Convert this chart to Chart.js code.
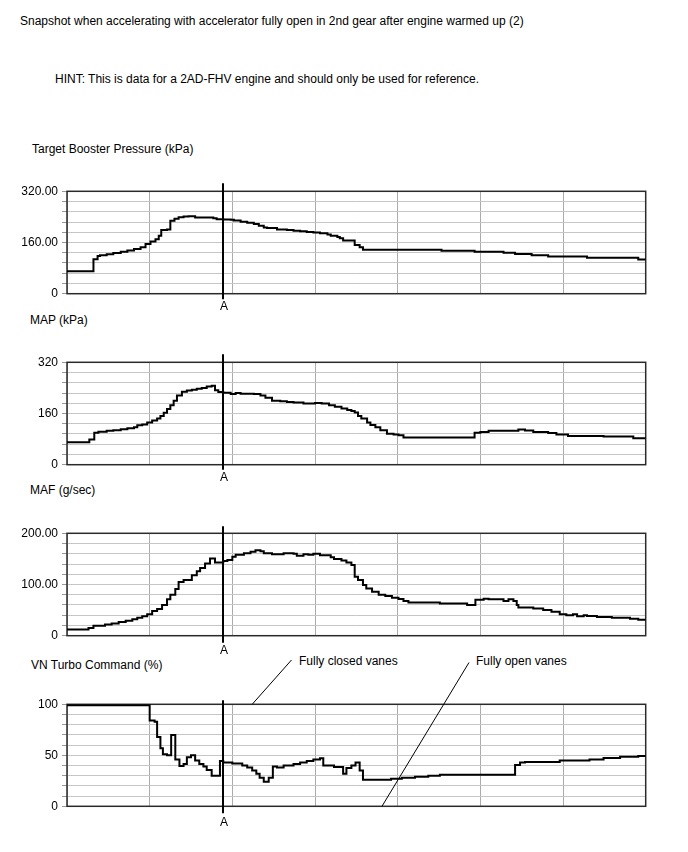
<!DOCTYPE html>
<html>
<head>
<meta charset="utf-8">
<script src="https://cdn.jsdelivr.net/npm/chart.js@4.4.1/dist/chart.umd.min.js"></script>
<style>
  body { margin: 0; background: #fff; width: 688px; height: 852px; position: relative; overflow: hidden;
         font-family: "Liberation Sans", Arial, sans-serif; }
  .txt { position: absolute; font-size: 12px; line-height: 14px; color: #000; white-space: nowrap; }
  canvas { position: absolute; left: 0; }
</style>
</head>
<body>
<div class="txt" style="left:20px;top:14px">Snapshot when accelerating with accelerator fully open in 2nd gear after engine warmed up (2)</div>
<div class="txt" style="left:55px;top:72px">HINT: This is data for a 2AD-FHV engine and should only be used for reference.</div>
<div class="txt" style="left:32px;top:142px">Target Booster Pressure (kPa)</div>
<div class="txt" style="left:30px;top:313px">MAP (kPa)</div>
<div class="txt" style="left:30px;top:483px">MAF (g/sec)</div>
<div class="txt" style="left:31px;top:658px">VN Turbo Command (%)</div>
<div class="txt" style="left:299px;top:654px">Fully closed vanes</div>
<div class="txt" style="left:476px;top:654px">Fully open vanes</div>

<canvas id="boost" style="top:175px" width="688" height="140"></canvas>
<canvas id="map" style="top:345px" width="688" height="140"></canvas>
<canvas id="maf" style="top:515px" width="688" height="140"></canvas>
<canvas id="vn" style="top:640px" width="688" height="200"></canvas>

<script>
// time axis: 7 divisions, no labels
const markerAt = 18.9;
const markerLabel = 'A';

// Target Booster Pressure (kPa) - each point is where a new level starts
const boostX = [0, 3.2, 3.7, 4.0, 4.8, 5.6, 6.5, 7.3, 8.1, 8.9, 9.5, 10.1, 10.7, 11.1, 11.4, 12.1, 12.5, 13.0, 13.5, 14.1,
  14.7, 15.5, 17.7, 18.1, 18.9, 19.8, 20.2, 21.0, 21.8, 22.6, 23.2, 23.8, 24.2, 25.4, 26.6, 27.4, 28.2, 29.0, 29.8, 30.6,
  31.5, 31.9, 32.7, 33.0, 33.4, 34.8, 35.4, 35.8, 45.3, 49.3, 52.8, 54.2, 56.2, 58.2, 62.9, 69.1, 70];
const boostY = [70, 108, 118, 120, 123, 127, 131, 135, 140, 145, 155, 163, 170, 181, 199, 201, 228, 234, 239, 241,
  242, 238, 236, 233, 232, 231, 229, 225, 222, 218, 212, 207, 205, 201, 199, 197, 195, 193, 191, 189,
  185, 181, 177, 173, 166, 152, 145, 137, 134, 131, 128, 124, 120, 116, 112, 107, 107];
const boostTickVals = [0, 160, 320];
const boostTickText = ['0', '160.00', '320.00'];

// MAP (kPa)
const mapX = [0, 2.7, 3.3, 3.8, 4.8, 5.6, 6.5, 7.3, 8.1, 8.5, 9.1, 9.7, 10.3, 10.9, 11.3, 11.7, 12.1, 12.5, 12.9, 13.3,
  13.9, 14.5, 15.1, 15.7, 16.3, 16.9, 17.5, 17.9, 18.3, 18.9, 19.8, 20.4, 21.0, 22.6, 23.4, 24.0, 24.8, 25.8, 26.6, 27.4,
  28.6, 30.0, 30.8, 31.7, 32.4, 33.2, 33.9, 34.4, 34.8, 35.2, 35.6, 36.3, 36.7, 37.3, 37.9, 38.7, 39.5, 40.1, 40.7, 49.3,
  50.0, 51.0, 54.6, 55.4, 56.4, 58.2, 59.2, 60.6, 64.9, 68.5, 70];
const mapY = [70, 79, 100, 103, 106, 108, 111, 114, 117, 123, 126, 132, 138, 144, 152, 162, 174, 186, 200, 216,
  228, 232, 234, 237, 240, 244, 247, 233, 227, 225, 221, 224, 222, 221, 216, 209, 200, 198, 196, 194,
  191, 193, 191, 186, 181, 176, 171, 168, 163, 152, 144, 132, 124, 117, 108, 97, 94, 92, 85, 100,
  102, 106, 110, 107, 102, 99, 94, 90, 88, 83, 83];
const mapTickVals = [0, 160, 320];
const mapTickText = ['0', '160', '320'];

// MAF (g/sec)
const mafX = [0, 2.6, 3.2, 4.6, 5.4, 6.25, 7.1, 7.9, 8.5, 9.1, 9.7, 10.3, 10.9, 11.5, 12.1, 12.5, 13.1, 13.5, 14.1, 15.1,
  15.7, 16.1, 16.7, 17.3, 17.9, 18.9, 19.4, 20.0, 20.4, 21.4, 22.2, 22.8, 23.4, 23.8, 24.8, 26.2, 27.4, 27.8, 28.6, 29.2,
  29.8, 30.6, 31.9, 32.3, 33.2, 33.8, 34.4, 34.8, 35.2, 35.8, 36.2, 36.9, 37.7, 38.5, 39.3, 40.1, 40.7, 41.3, 45.1, 48.4,
  49.4, 50.4, 51.0, 52.8, 53.4, 54.0, 54.4, 54.6, 56.4, 57.6, 58.6, 59.6, 60.4, 61.2, 61.7, 62.5, 62.9, 64.1, 65.9, 68.1,
  69.1, 70];
const mafY = [12, 15, 19.5, 22, 24, 27, 29, 32, 35, 38, 42, 48, 52, 60, 71, 80, 91, 105, 109, 118,
  126, 132, 141, 151, 143, 146, 148, 154, 158, 161, 164, 167, 165, 161, 159, 161, 160, 156, 159, 158,
  160, 157, 153, 150, 147, 143, 138, 115, 109, 99, 92, 86, 80, 77.5, 74, 71.6, 68, 65, 63, 60,
  70, 72, 71, 68, 71, 68, 60, 55, 53, 50, 47, 42, 40, 42, 38, 40, 38.4, 36.5, 35, 33,
  31, 31];
const mafTickVals = [0, 100, 200];
const mafTickText = ['0', '100.00', '200.00'];

// VN Turbo Command (%)
const vnX = [0, 10.0, 10.6, 10.9, 11.3, 11.6, 12.1, 12.6, 13.1, 13.6, 14.1, 14.5, 15.0, 15.5, 16.0, 16.5, 16.9, 17.5, 18.5, 18.9,
  20.0, 21.2, 21.8, 22.4, 22.9, 23.3, 23.8, 24.4, 24.9, 25.4, 26.2, 27.4, 28.2, 29.0, 29.8, 30.6, 31.0, 32.3, 33.4, 33.8,
  34.4, 34.9, 35.4, 35.8, 39.2, 40.5, 42.1, 43.7, 45.1, 54.2, 54.8, 55.4, 59.6, 63.2, 64.9, 66.9, 69.1, 70];
const vnY = [99, 84, 83, 68, 57, 51, 50, 70, 46, 39.5, 41.5, 48, 50, 45, 41.5, 39, 35.5, 30, 44.5, 43,
  42, 40, 38, 35, 32, 28, 24, 28, 39, 38, 40, 41.5, 43, 44.5, 46, 47, 40, 38.5, 32, 37.5,
  40, 43, 35, 26, 27, 28, 29, 30, 31, 40.5, 43, 43.5, 44.8, 46, 47.4, 48.7, 49.3, 49.3];
const vnTickVals = [0, 50, 100];
const vnTickText = ['0', '50', '100'];

// callout anchors on the VN plot (data coords)
const closedVanesAt = [22.4, 100];
const openVanesAt = [38.1, 0];

const FONT = '"Liberation Sans", Arial, sans-serif';

const framePlugin = {
  id: 'frame',
  beforeDatasetsDraw(chart) {
    const a = chart.chartArea, ctx = chart.ctx;
    ctx.save();
    ctx.strokeStyle = '#2a2a2a';
    ctx.lineWidth = 1.5;
    ctx.strokeRect(a.left, a.top, a.right - a.left, a.bottom - a.top);
    ctx.restore();
  },
  afterDraw(chart, args, opts) {
    const a = chart.chartArea, ctx = chart.ctx;
    const px = Math.round(chart.scales.x.getPixelForValue(markerAt));
    ctx.save();
    ctx.strokeStyle = '#000';
    ctx.lineWidth = 2;
    ctx.beginPath();
    ctx.moveTo(px, a.top - opts.above);
    ctx.lineTo(px, a.bottom + opts.below);
    ctx.stroke();
    ctx.fillStyle = '#000';
    ctx.font = '12px ' + FONT;
    ctx.textAlign = 'center';
    ctx.textBaseline = 'middle';
    ctx.fillText(markerLabel, px + 1, a.bottom + opts.label);

    // leader lines for the vane callouts (VN panel only)
    if (opts.callouts) {
      const xs = chart.scales.x, ys = chart.scales.y;
      ctx.lineWidth = 1;
      ctx.beginPath();
      ctx.moveTo(291.5, 20);
      ctx.lineTo(xs.getPixelForValue(closedVanesAt[0]), ys.getPixelForValue(closedVanesAt[1]));
      ctx.moveTo(469, 22.5);
      ctx.lineTo(xs.getPixelForValue(openVanesAt[0]), ys.getPixelForValue(openVanesAt[1]));
      ctx.stroke();
    }
    ctx.restore();
  }
};

function makeChart(id, xs, ys, yMax, step, tickVals, tickText, padTop, padBottom, mark) {
  const pts = xs.map((x, i) => ({ x: x, y: ys[i] }));
  return new Chart(document.getElementById(id), {
    type: 'line',
    data: {
      datasets: [{
        data: pts,
        borderColor: '#000',
        borderWidth: 2,
        pointRadius: 0,
        stepped: true,
        fill: false
      }]
    },
    options: {
      responsive: false,
      animation: false,
      layout: { padding: { top: padTop, bottom: padBottom, left: 0, right: 42.3 } },
      plugins: { legend: { display: false }, tooltip: { enabled: false }, frame: mark },
      scales: {
        x: {
          type: 'linear', min: 0, max: 70,
          afterFit(s) { s.height = 0; },
          ticks: { display: false, stepSize: 10, autoSkip: false },
          grid: { color: '#ababab', lineWidth: 1, drawTicks: false },
          border: { display: false }
        },
        y: {
          min: 0, max: yMax,
          afterFit(s) { s.width = 67; },
          ticks: {
            stepSize: step, autoSkip: false, padding: 4, color: '#000',
            font: { size: 12, family: FONT },
            callback: v => { const i = tickVals.indexOf(v); return i < 0 ? '' : tickText[i]; }
          },
          grid: { color: '#c6c6c6', lineWidth: 1, tickLength: 5, tickColor: '#9a9a9a' },
          border: { display: false }
        }
      }
    },
    plugins: [framePlugin]
  });
}

makeChart('boost', boostX, boostY, 320, 32, boostTickVals, boostTickText, 16.3, 21.3, { above: 8, below: 5.5, label: 13 });
makeChart('map', mapX, mapY, 320, 32, mapTickVals, mapTickText, 17.3, 20.3, { above: 8, below: 5, label: 13 });
makeChart('maf', mafX, mafY, 200, 20, mafTickVals, mafTickText, 18.3, 19.3, { above: 7, below: 7, label: 15 });
makeChart('vn', vnX, vnY, 100, 10, vnTickVals, vnTickText, 64.3, 33.7, { above: 4, below: 7, label: 16, callouts: true });
</script>
</body>
</html>
